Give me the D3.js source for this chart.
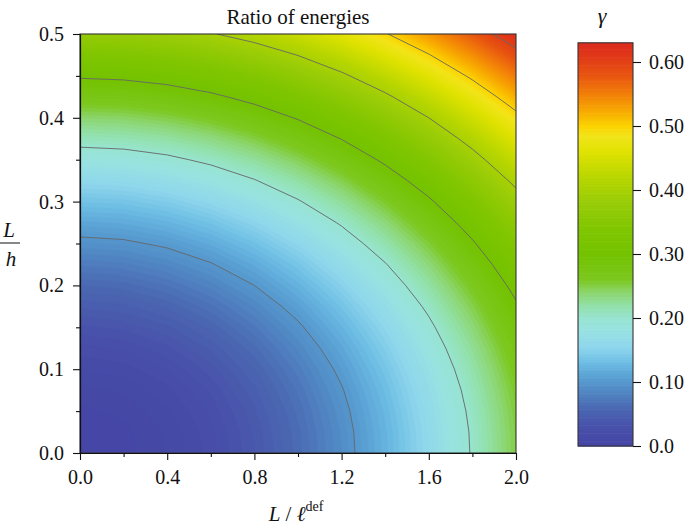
<!DOCTYPE html>
<html>
<head>
  <meta charset="utf-8">
  <style>
    body { margin: 0; background: #fff; }
    text { font-family: "Liberation Serif", "Times New Roman", serif; fill: #111; }
    .axis path, .axis line { stroke: #111; stroke-width: 1.1; }
    .axis text { font-size: 20px; }
    .contour { fill: none; stroke: #666; stroke-width: 0.9; }
  </style>
</head>
<body>
  <script src="https://d3js.org/d3.v7.min.js"></script>
  <svg width="685" height="525"></svg>

  <script>
    // grid samples of gamma: rows go up in L/h, columns go right in L/l_def
    var xValues = [0, 0.2, 0.4, 0.6, 0.8, 1.0, 1.2, 1.4, 1.6, 1.8, 2.0];
    var yValues = [0, 0.025, 0.05, 0.075, 0.10, 0.125, 0.15, 0.175, 0.20, 0.225, 0.25,
                   0.275, 0.30, 0.325, 0.35, 0.375, 0.40, 0.425, 0.45, 0.475, 0.50];
    var gammaGrid = [
      [.0000, .0025, .0100, .0225, .0400, .0625, .0900, .1225, .1600, .2025, .2500],
      [.0009, .0034, .0109, .0234, .0409, .0634, .0909, .1234, .1609, .2034, .2509],
      [.0038, .0063, .0138, .0263, .0438, .0663, .0938, .1263, .1638, .2063, .2538],
      [.0084, .0109, .0184, .0309, .0484, .0709, .0984, .1309, .1684, .2109, .2584],
      [.0150, .0175, .0250, .0375, .0550, .0775, .1050, .1375, .1750, .2175, .2650],
      [.0234, .0259, .0334, .0459, .0634, .0859, .1134, .1459, .1834, .2259, .2734],
      [.0338, .0363, .0438, .0563, .0738, .0963, .1238, .1563, .1938, .2363, .2838],
      [.0459, .0484, .0559, .0684, .0859, .1084, .1359, .1684, .2059, .2484, .2959],
      [.0600, .0625, .0700, .0825, .1000, .1225, .1500, .1825, .2200, .2625, .3100],
      [.0759, .0784, .0859, .0984, .1159, .1384, .1659, .1984, .2359, .2784, .3259],
      [.0938, .0963, .1038, .1163, .1338, .1563, .1838, .2163, .2538, .2963, .3438],
      [.1134, .1159, .1234, .1359, .1534, .1759, .2034, .2359, .2734, .3159, .3634],
      [.1350, .1375, .1450, .1575, .1750, .1975, .2250, .2575, .2950, .3375, .3850],
      [.1584, .1609, .1684, .1809, .1984, .2209, .2484, .2809, .3184, .3609, .4084],
      [.1838, .1863, .1938, .2063, .2238, .2463, .2738, .3063, .3438, .3863, .4338],
      [.2109, .2134, .2209, .2334, .2509, .2734, .3009, .3334, .3709, .4134, .4609],
      [.2400, .2425, .2500, .2625, .2800, .3025, .3300, .3625, .4000, .4425, .4900],
      [.2709, .2734, .2809, .2934, .3109, .3334, .3609, .3934, .4309, .4734, .5209],
      [.3038, .3063, .3138, .3263, .3438, .3663, .3938, .4263, .4638, .5063, .5538],
      [.3384, .3409, .3484, .3609, .3784, .4009, .4284, .4609, .4984, .5409, .5884],
      [.3750, .3775, .3850, .3975, .4150, .4375, .4650, .4975, .5350, .5775, .6250]
    ];
    var contourLevels = [0.1, 0.2, 0.3, 0.4, 0.5, 0.6];
    var xTicks = [0, 0.4, 0.8, 1.2, 1.6, 2.0];
    var xMinorTicks = [0.2, 0.6, 1.0, 1.4, 1.8];
    var yTicks = [0, 0.1, 0.2, 0.3, 0.4, 0.5];
    var yMinorTicks = [0.05, 0.15, 0.25, 0.35, 0.45];
    var cbTicks = [0, 0.1, 0.2, 0.3, 0.4, 0.5, 0.6];
    var cbTickLabels = ["0.0", "0.10", "0.20", "0.30", "0.40", "0.50", "0.60"];
    var gammaMax = 0.63;

    var svg = d3.select("svg"),
        margin = {top: 34, left: 80},
        width = 436,
        height = 419;

    var x = d3.scaleLinear().domain([0, 2]).range([0, width]),
        y = d3.scaleLinear().domain([0, 0.5]).range([height, 0]);

    // colour map picked from the colour bar
    var color = d3.scaleLinear()
      .domain([0, .03, .06, .09, .11, .13, .155, .18, .20, .22, .24, .26, .30, .34, .38, .42, .46, .485, .50, .52, .55, .58, .61, .63])
      .range(["#4545a5", "#4850aa", "#4a68b2", "#528cc6", "#5aa2d4", "#6cbce4", "#8ed6ec", "#98e2e2", "#98e4d2",
              "#92e0a8", "#8cd670", "#7cc820", "#74c200", "#80c600", "#98cc08", "#b8d600", "#dfe200", "#f2e41a",
              "#fcd400", "#f8b000", "#f28008", "#e85410", "#e03818", "#dc2c1e"])
      .clamp(true);

    var g = svg.append("g")
      .attr("transform", "translate(" + margin.left + "," + margin.top + ")");

    g.append("clipPath").attr("id", "plotclip")
      .append("rect").attr("width", width).attr("height", height);

    // grid index -> pixel (d3.contours puts sample i at i + 0.5)
    var nx = xValues.length, ny = yValues.length;
    var gx = d3.scaleLinear().domain([0.5, nx - 0.5]).range([x(xValues[0]), x(xValues[nx - 1])]);
    var gy = d3.scaleLinear().domain([0.5, ny - 0.5]).range([y(yValues[0]), y(yValues[ny - 1])]);
    var path = d3.geoPath(d3.geoTransform({
      point: function(px, py) { this.stream.point(gx(px), gy(py)); }
    }));

    var values = [];
    gammaGrid.forEach(function(row) { values = values.concat(row); });

    var step = 0.005;
    var bands = d3.contours().size([nx, ny]).thresholds(d3.range(0, gammaMax, step))(values);

    var plot = g.append("g").attr("clip-path", "url(#plotclip)");

    plot.selectAll(".band")
      .data(bands)
      .enter().append("path")
      .attr("class", "band")
      .attr("d", path)
      .attr("fill", function(d) { return color(d.value + step / 2); })
      .attr("stroke", function(d) { return color(d.value + step / 2); })
      .attr("stroke-width", 0.5);

    var lines = d3.contours().size([nx, ny]).thresholds(contourLevels)(values);
    plot.selectAll(".contour")
      .data(lines)
      .enter().append("path")
      .attr("class", "contour")
      .attr("d", path);

    // frame
    g.append("rect")
      .attr("width", width).attr("height", height)
      .attr("fill", "none").attr("stroke", "#333").attr("stroke-width", 1.1);

    g.append("g")
      .attr("class", "axis")
      .attr("transform", "translate(0," + height + ")")
      .call(d3.axisBottom(x).tickValues(xTicks).tickFormat(d3.format(".1f")).tickSize(7).tickSizeOuter(0).tickPadding(10));

    g.append("g")
      .attr("class", "axis")
      .attr("transform", "translate(0," + height + ")")
      .call(d3.axisBottom(x).tickValues(xMinorTicks).tickFormat("").tickSize(4).tickSizeOuter(0));

    g.append("g")
      .attr("class", "axis")
      .call(d3.axisLeft(y).tickValues(yTicks).tickFormat(d3.format(".1f")).tickSize(7).tickSizeOuter(0).tickPadding(9));

    g.append("g")
      .attr("class", "axis")
      .call(d3.axisLeft(y).tickValues(yMinorTicks).tickFormat("").tickSize(4).tickSizeOuter(0));

    // title and axis labels
    svg.append("text")
      .attr("x", margin.left + width / 2).attr("y", 24)
      .attr("text-anchor", "middle").style("font-size", "21px")
      .text("Ratio of energies");

    var xl = svg.append("text")
      .attr("x", margin.left + width / 2 - 2).attr("y", 521)
      .attr("text-anchor", "middle").style("font-size", "21px");
    xl.append("tspan").style("font-style", "italic").text("L");
    xl.append("tspan").text(" / ");
    xl.append("tspan").style("font-style", "italic").text("\u2113");
    xl.append("tspan").attr("dy", -10).style("font-size", "14px").text("def");

    svg.append("text")
      .attr("x", 9).attr("y", 237)
      .attr("text-anchor", "middle").style("font-size", "21px").style("font-style", "italic")
      .text("L");
    svg.append("line")
      .attr("x1", 0).attr("x2", 20).attr("y1", 243).attr("y2", 243)
      .attr("stroke", "#111").attr("stroke-width", 1);
    svg.append("text")
      .attr("x", 11).attr("y", 266)
      .attr("text-anchor", "middle").style("font-size", "21px").style("font-style", "italic")
      .text("h");

    // colour bar
    var cb = {x: 578, w: 55};
    var cy = d3.scaleLinear().domain([0, 0.6]).range([446, 62]);
    var cbSteps = d3.range(0, gammaMax, 0.0025);

    var cbg = svg.append("g");
    cbg.selectAll("rect")
      .data(cbSteps)
      .enter().append("rect")
      .attr("x", cb.x)
      .attr("y", function(d) { return cy(Math.min(d + 0.0025, gammaMax)); })
      .attr("width", cb.w)
      .attr("height", function(d) { return cy(d) - cy(Math.min(d + 0.0025, gammaMax)) + 0.6; })
      .attr("fill", function(d) { return color(d + 0.00125); });

    cbg.append("rect")
      .attr("x", cb.x).attr("y", cy(gammaMax))
      .attr("width", cb.w).attr("height", cy(0) - cy(gammaMax))
      .attr("fill", "none").attr("stroke", "#333").attr("stroke-width", 1.1);

    svg.append("g")
      .attr("class", "axis")
      .attr("transform", "translate(" + (cb.x + cb.w) + ",0)")
      .call(d3.axisRight(cy).tickValues(cbTicks)
        .tickFormat(function(d, i) { return cbTickLabels[i]; })
        .tickSize(8).tickSizeOuter(0).tickPadding(8))
      .select(".domain").remove();

    svg.append("text")
      .attr("x", 602).attr("y", 23)
      .attr("text-anchor", "middle").style("font-size", "22px").style("font-style", "italic")
      .text("\u03b3");
  </script>
</body>
</html>
